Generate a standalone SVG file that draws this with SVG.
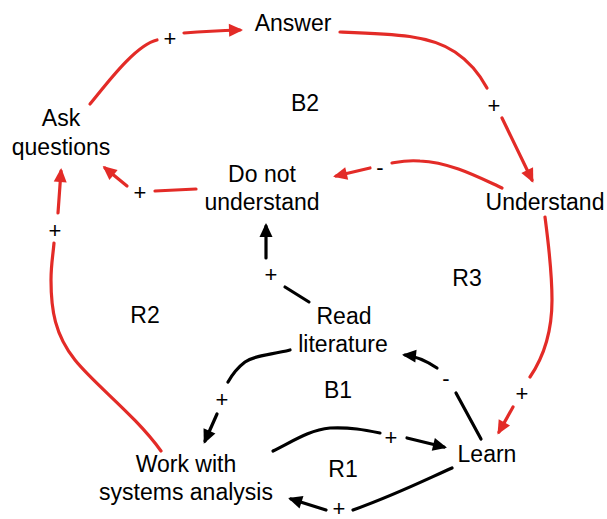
<svg xmlns="http://www.w3.org/2000/svg" width="607" height="519" viewBox="0 0 607 519">
<style>
.t{font-family:"Liberation Sans",Arial,Helvetica,sans-serif;font-size:23px;fill:#000;text-anchor:middle}
.s{font-family:"Liberation Sans",Arial,Helvetica,sans-serif;font-size:22px;fill:#000;text-anchor:middle}
.r{fill:none;stroke:#e32b27;stroke-width:3.2;stroke-linecap:round}
.b{fill:none;stroke:#000;stroke-width:3.2;stroke-linecap:round}
.ra{marker-end:url(#mr)}
.ba{marker-end:url(#mb)}
</style>
<defs>
<marker id="mr" markerUnits="userSpaceOnUse" viewBox="-14 -8 18 16" refX="0" refY="0" markerWidth="18" markerHeight="16" orient="auto">
<path d="M-11,-6.5 L3,0 L-11,6.5 Z" fill="#e32b27"/>
</marker>
<marker id="mb" markerUnits="userSpaceOnUse" viewBox="-14 -8 18 16" refX="0" refY="0" markerWidth="18" markerHeight="16" orient="auto">
<path d="M-11,-6.5 L3,0 L-11,6.5 Z" fill="#000"/>
</marker>
</defs>
<g id="connectors">
<path class="r" d="M90,104 C105,86 135,45 157,40"/>
<path class="r ra" d="M184,33 Q210,31 240,30"/>
<text class="s" x="170" y="46">+</text>

<path class="r" d="M340,32 C395,34 430,35 455,52 C470,62 480,75 487,88"/>
<path class="r ra" d="M502,118 L532,180"/>
<text class="s" x="494" y="113">+</text>

<path class="r" d="M502,188 C480,178 450,162 420,161 C405,160 398,162 392,163"/>
<path class="r ra" d="M370,168 L336,176"/>
<text class="s" x="380" y="175">-</text>

<path class="r" d="M196,189 L155,191"/>
<path class="r ra" d="M127,186 L105,168"/>
<text class="s" x="140" y="200">+</text>

<path class="r" d="M161,451 C135,415 95,385 75,360 C55,335 51,310 51,280 C51,265 53,255 54,243"/>
<path class="r ra" d="M58,213 L61,171"/>
<text class="s" x="55" y="238">+</text>

<path class="r" d="M545,217 C548,240 552,270 552,300 C552,330 545,355 530,377"/>
<path class="r ra" d="M513,407 L499,432"/>
<text class="s" x="522" y="401">+</text>

<path class="b" d="M309,302 L285,287"/>
<path class="b ba" d="M266,258 L266,226"/>
<text class="s" x="271" y="282">+</text>

<path class="b" d="M290,350 C270,355 255,355 245,362 C237,368 232,375 228,382"/>
<path class="b ba" d="M217,414 L205,441"/>
<text class="s" x="222" y="407">+</text>

<path class="b" d="M273,451 C295,440 310,430 330,428 C350,427 365,430 380,433"/>
<path class="b ba" d="M407,438 L444,447"/>
<text class="s" x="391" y="445">+</text>

<path class="b" d="M452,468 C425,480 395,495 353,510"/>
<path class="b ba" d="M326,510 L291,499"/>
<text class="s" x="339" y="516">+</text>

<path class="b" d="M481,439 L456,393"/>
<path class="b ba" d="M437,368 C425,360 415,356 405,355"/>
<text class="s" x="446" y="386">-</text>
</g>
<g id="answer"><text class="t" x="293" y="31">Answer</text></g>
<g id="ask-questions"><text class="t" x="61" y="126">Ask</text><text class="t" x="61" y="155">questions</text></g>
<g id="do-not-understand"><text class="t" x="262" y="182">Do not</text><text class="t" x="262" y="210">understand</text></g>
<g id="understand"><text class="t" x="545" y="210">Understand</text></g>
<g id="read-literature"><text class="t" x="344" y="324">Read</text><text class="t" x="343" y="352">literature</text></g>
<g id="learn"><text class="t" x="487" y="462">Learn</text></g>
<g id="work"><text class="t" x="186" y="472">Work with</text><text class="t" x="186" y="500">systems analysis</text></g>
<g id="loops">
<text class="t" x="305" y="111">B2</text>
<text class="t" x="467" y="286">R3</text>
<text class="t" x="145" y="323">R2</text>
<text class="t" x="338" y="398">B1</text>
<text class="t" x="343" y="477">R1</text>
</g>
</svg>
